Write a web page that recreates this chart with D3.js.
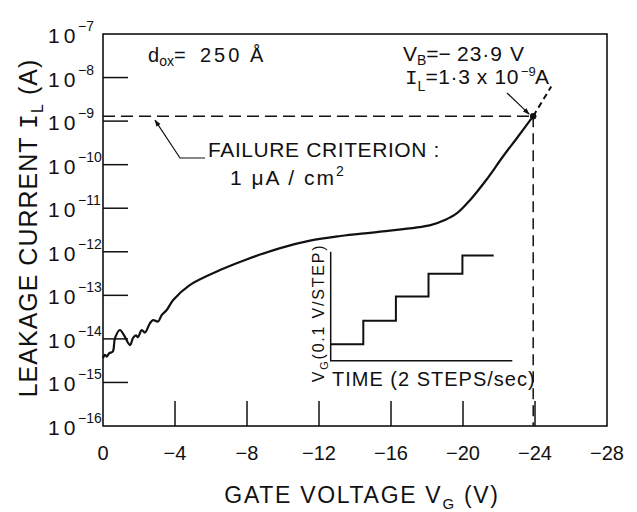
<!DOCTYPE html>
<meta charset="utf-8">
<style>
body { margin: 0; background: #fff; }
svg text { font-family: "Liberation Sans", Arial, sans-serif; fill: #111; }
.mono { font-family: "Liberation Mono", "DejaVu Sans Mono", monospace; }
</style>
<body>
<svg id="chart" width="637" height="512"></svg>
<script src="https://d3js.org/d3.v7.min.js"></script>
<script>
// measured curve: gate voltage (V) and leakage current (A)
var gateV = [0, -0.11, -0.21, -0.35, -0.54, -0.67, -0.94, -1.17, -1.5, -1.67, -1.83, -1.94,
  -2.15, -2.33, -2.61, -2.78, -3.06, -3.26, -3.54, -3.9, -4.8, -6.5, -7.9, -9.8, -11.5,
  -13.2, -15.4, -18.2, -19.0, -19.65, -20.4, -21.3, -22.2, -23.0, -23.9];
var leakA = [3.6e-15, 4.3e-15, 3.9e-15, 4.7e-15, 5.1e-15, 1.05e-14, 1.6e-14, 1.2e-14, 7.2e-15,
  1.05e-14, 1.2e-14, 1.1e-14, 1.6e-14, 1.4e-14, 2.3e-14, 2.7e-14, 2.5e-14, 3.5e-14, 4.6e-14,
  7.8e-14, 1.7e-13, 3.8e-13, 6.5e-13, 1.2e-12, 1.8e-12, 2.3e-12, 2.9e-12, 4.1e-12, 5.4e-12,
  7.6e-12, 1.55e-11, 4.5e-11, 1.5e-10, 4.1e-10, 1.3e-9];
// dashed continuation past breakdown
var extV = [-23.9, -24.9];
var extA = [1.3e-9, 6.2e-9];
var breakV = -23.9, breakA = 1.3e-9;

var xTicks = [0, -4, -8, -12, -16, -20, -24, -28];
var yExps = [-16, -15, -14, -13, -12, -11, -10, -9, -8, -7];

// inset: stepped gate voltage vs time
var stepT = [0, 1, 2, 3, 4.04, 5];
var stepLevel = [0.75, 1.83, 2.94, 3.99, 4.82, 4.82];

var svg = d3.select("#chart");
var ink = "#111";

var x = d3.scaleLinear().domain([0, -28]).range([103, 607]);
var y = d3.scaleLog().domain([1e-16, 1e-7]).range([426, 34]);

// arrow head marker
svg.append("defs").append("marker")
  .attr("id", "arr").attr("viewBox", "0 0 10 10").attr("refX", 9).attr("refY", 5)
  .attr("markerWidth", 7).attr("markerHeight", 7).attr("markerUnits", "userSpaceOnUse")
  .attr("orient", "auto")
  .append("path").attr("d", "M0,1.5L10,5L0,8.5Z").attr("fill", ink);

// frame
svg.append("rect")
  .attr("x", x(0)).attr("y", y(1e-7))
  .attr("width", x(-28) - x(0)).attr("height", y(1e-16) - y(1e-7))
  .attr("fill", "none").attr("stroke", ink).attr("stroke-width", 1.6);

// inward ticks
svg.selectAll(".xt").data(xTicks.slice(1, -1)).enter().append("line")
  .attr("x1", function(d) { return x(d); }).attr("x2", function(d) { return x(d); })
  .attr("y1", y(1e-16)).attr("y2", y(1e-16) - 25)
  .attr("stroke", ink).attr("stroke-width", 1.5);
svg.selectAll(".yt").data(yExps.slice(1, -1)).enter().append("line")
  .attr("x1", x(0)).attr("x2", x(0) + 25)
  .attr("y1", function(d) { return y(Math.pow(10, d)); })
  .attr("y2", function(d) { return y(Math.pow(10, d)); })
  .attr("stroke", ink).attr("stroke-width", 1.5);

// x tick labels
svg.selectAll(".xl").data(xTicks).enter().append("text")
  .attr("x", function(d) { return x(d); }).attr("y", 460)
  .attr("text-anchor", "middle").attr("font-size", 20)
  .text(function(d) { return d === 0 ? "0" : "\u2212" + Math.abs(d); });

// y tick labels 10^n
var yl = svg.selectAll(".yl").data(yExps).enter().append("g");
yl.append("text")
  .attr("x", 48).attr("y", function(d) { return y(Math.pow(10, d)) + 9; })
  .attr("font-size", 21).attr("letter-spacing", 4).text("10");
yl.append("text")
  .attr("x", 78).attr("y", function(d) { return y(Math.pow(10, d)) - 3; })
  .attr("font-size", 14).text(function(d) { return "\u2212" + Math.abs(d); });

// axis titles
var xt = svg.append("text").attr("x", 362).attr("y", 503)
  .attr("text-anchor", "middle").attr("font-size", 23).attr("letter-spacing", 1.7);
xt.append("tspan").text("GATE VOLTAGE V");
xt.append("tspan").attr("font-size", 15).attr("dy", 6).text("G");
xt.append("tspan").attr("dy", -6).text(" (V)");

var yt = svg.append("text").attr("transform", "translate(37,228) rotate(-90)")
  .attr("text-anchor", "middle").attr("font-size", 25).attr("letter-spacing", 1);
yt.append("tspan").text("LEAKAGE CURRENT ");
yt.append("tspan").attr("class", "mono").text("I");
yt.append("tspan").attr("font-size", 16).attr("dy", 6).text("L");
yt.append("tspan").attr("dy", -6).text(" (A)");

// criterion dashed lines
svg.append("line")
  .attr("x1", x(0)).attr("x2", x(breakV)).attr("y1", y(breakA)).attr("y2", y(breakA))
  .attr("stroke", ink).attr("stroke-width", 1.5).attr("stroke-dasharray", "12,6");
svg.append("line")
  .attr("x1", x(breakV)).attr("x2", x(breakV)).attr("y1", y(breakA)).attr("y2", y(1e-16))
  .attr("stroke", ink).attr("stroke-width", 1.5).attr("stroke-dasharray", "11,6");

// curve
var line = d3.line()
  .x(function(d) { return x(d[0]); })
  .y(function(d) { return y(d[1]); })
  .curve(d3.curveCatmullRom.alpha(0.5));
svg.append("path").datum(d3.zip(gateV, leakA)).attr("d", line)
  .attr("fill", "none").attr("stroke", ink).attr("stroke-width", 2.2)
  .attr("stroke-linejoin", "round");
svg.append("path").datum(d3.zip(extV, extA)).attr("d", d3.line()
    .x(function(d) { return x(d[0]); }).y(function(d) { return y(d[1]); }))
  .attr("fill", "none").attr("stroke", ink).attr("stroke-width", 2)
  .attr("stroke-dasharray", "6,4");
svg.append("circle").attr("cx", x(breakV)).attr("cy", y(breakA)).attr("r", 3.2).attr("fill", ink);

// annotations
var dox = svg.append("text").attr("x", 148).attr("y", 62).attr("font-size", 20);
dox.append("tspan").text("d");
dox.append("tspan").attr("font-size", 14).attr("dy", 4).text("ox");
dox.append("tspan").attr("dy", -4).text("=");
dox.append("tspan").attr("x", 200).attr("letter-spacing", 3).text("250");
dox.append("tspan").attr("x", 250).text("\u00c5");

var vb = svg.append("text").attr("x", 403).attr("y", 61).attr("font-size", 21);
vb.append("tspan").text("V");
vb.append("tspan").attr("font-size", 14).attr("dy", 4).text("B");
vb.append("tspan").attr("dy", -4).text("=\u2212");
vb.append("tspan").attr("x", 457).attr("letter-spacing", 1).text("23\u00b79");
vb.append("tspan").attr("x", 510).text("V");

var il = svg.append("text").attr("x", 405).attr("y", 84).attr("font-size", 21);
il.append("tspan").attr("class", "mono").text("I");
il.append("tspan").attr("font-size", 14).attr("dy", 7).text("L");
il.append("tspan").attr("dy", -7).attr("letter-spacing", 0.6).text("=1\u00b73 x 10");
il.append("tspan").attr("x", 521).attr("dy", -8).attr("font-size", 13).text("\u22129");
il.append("tspan").attr("x", 535).attr("dy", 8).text("A");

svg.append("line").attr("x1", 507).attr("y1", 93).attr("x2", x(breakV) - 4).attr("y2", y(breakA) - 2)
  .attr("stroke", ink).attr("stroke-width", 1.2).attr("marker-end", "url(#arr)");

svg.append("path").attr("d", "M205,158H180L" + (x(0) + 52) + "," + (y(breakA) + 4))
  .attr("fill", "none").attr("stroke", ink).attr("stroke-width", 1.2).attr("marker-end", "url(#arr)");

svg.append("text").attr("x", 208).attr("y", 157).attr("font-size", 21).attr("letter-spacing", 0.6)
  .text("FAILURE CRITERION :");
var fc = svg.append("text").attr("x", 230).attr("y", 185).attr("font-size", 21).attr("letter-spacing", 2);
fc.append("tspan").text("1 \u03bcA / cm");
fc.append("tspan").attr("font-size", 14).attr("dy", -9).text("2");

// inset
var ix = d3.scaleLinear().domain([0, 5.57]).range([330.7, 512.3]);
var iy = d3.scaleLinear().domain([0, 5]).range([360.7, 251.7]);
svg.append("path")
  .attr("d", "M" + ix(0) + "," + iy(5) + "V" + iy(0) + "H" + ix(5.57))
  .attr("fill", "none").attr("stroke", ink).attr("stroke-width", 1.5);
svg.append("path").datum(d3.zip(stepT, stepLevel))
  .attr("d", d3.line().x(function(d) { return ix(d[0]); }).y(function(d) { return iy(d[1]); })
    .curve(d3.curveStepAfter))
  .attr("fill", "none").attr("stroke", ink).attr("stroke-width", 2);

var iyl = svg.append("text").attr("transform", "translate(324,313) rotate(-90)")
  .attr("text-anchor", "middle").attr("font-size", 16).attr("letter-spacing", 1.8);
iyl.append("tspan").text("V");
iyl.append("tspan").attr("font-size", 11).attr("dy", 4).text("G");
iyl.append("tspan").attr("dy", -4).text("(0.1 V/STEP)");

svg.append("text").attr("x", 332).attr("y", 386).attr("font-size", 20).attr("letter-spacing", 1)
  .text("TIME (2 STEPS/sec)");
</script>
</body>
